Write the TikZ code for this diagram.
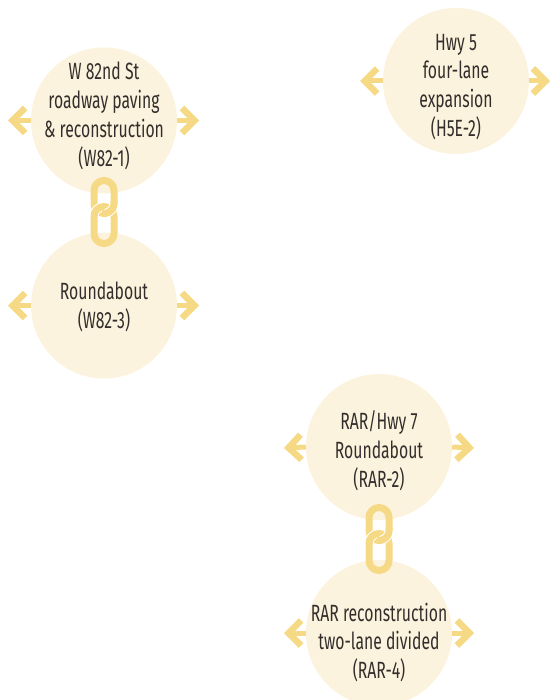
\documentclass[tikz,border=0pt]{standalone}
\usepackage{fontspec}
\setmainfont[FakeStretch=0.67]{Fira Sans}
\usetikzlibrary{arrows.meta}
\definecolor{discfill}{HTML}{FCF3DE}
\definecolor{markgold}{HTML}{F6D985}
\definecolor{labelink}{HTML}{332E2C}
\tikzset{
  disc/.style={circle,fill=discfill,minimum size=146pt,inner sep=0pt},
  disctext/.style={align=center,inner sep=0pt,text=labelink,font=\fontsize{23.5}{28.8}\selectfont},
  outarrow/.style={draw=markgold,line width=5pt,-{Straight Barb[length=12.5pt,width=25pt,line width=6.5pt]}},
  linkring/.style={draw=markgold,line width=7pt,rounded corners=10pt},
  linkarc/.style={draw=markgold,line width=7pt},
  linkgap/.style={draw=white,line width=9pt}
}
\begin{document}
\begin{tikzpicture}[x=1pt,y=-1pt]
            \useasboundingbox (0,0) rectangle (549,700);

            % Discs
            \node[disc] (w1) at (104,120.5) {};
            \node[disc] (w3) at (104,305.5) {};
            \node[disc] (h2) at (456,81) {};
            \node[disc] (r2) at (379,447) {};
            \node[disc] (r4) at (379,633) {};

            % Labels
            \node[disctext] (w1t) at (104,116) {W 82nd St\\roadway paving\\\& reconstruction\\(W82-1)};
            \node[disctext] (w3t) at (104,306.5) {Roundabout\\(W82-3)};
            \node[disctext] (h2t) at (456,87) {Hwy 5\\four-lane\\expansion\\(H5E-2)};
            \node[disctext] (r2t) at (379,450.5) {RAR/Hwy 7\\Roundabout\\(RAR-2)};
            \node[disctext] (r4t) at (379,642.5) {RAR reconstruction\\two-lane divided\\(RAR-4)};

            % Free ends of the arrows
            \coordinate (w1l) at (8,120.5);
            \coordinate (w1r) at (199,120.5);
            \coordinate (w3l) at (8,305.5);
            \coordinate (w3r) at (199,305.5);
            \coordinate (h2l) at (360,81);
            \coordinate (h2r) at (550,81);
            \coordinate (r2l) at (284,448);
            \coordinate (r2r) at (474,448);
            \coordinate (r4l) at (284,633);
            \coordinate (r4r) at (474,633);

            % Arrows
            \foreach \a/\b in {w1/w1l,w3/w3l,h2/h2l,r2/r2l,r4/r4l}
                \draw[outarrow] (\a.west) -- (\b);
            \foreach \a/\b in {w1/w1r,w3/w3r,h2/h2r,r2/r2r,r4/r4r}
                \draw[outarrow] (\a.east) -- (\b);

            % Chain links
            \foreach \x/\y in {104/177,379/504}{
                \draw[linkring] (\x-10,\y+3.5) rectangle (\x+10,\y+36.5);
                \draw[linkgap] (\x-10,\y+39.5) arc[start angle=180,end angle=260,radius=10];
                \draw[linkring] (\x-10,\y+29.5) rectangle (\x+10,\y+66.5);
                \draw[linkgap] (\x+10,\y+26.5) arc[start angle=0,end angle=80,radius=10];
                \draw[linkarc] (\x+10,\y+24) -- (\x+10,\y+26.5) arc[start angle=0,end angle=100,radius=10];
            }
        \end{tikzpicture}
\end{document}
